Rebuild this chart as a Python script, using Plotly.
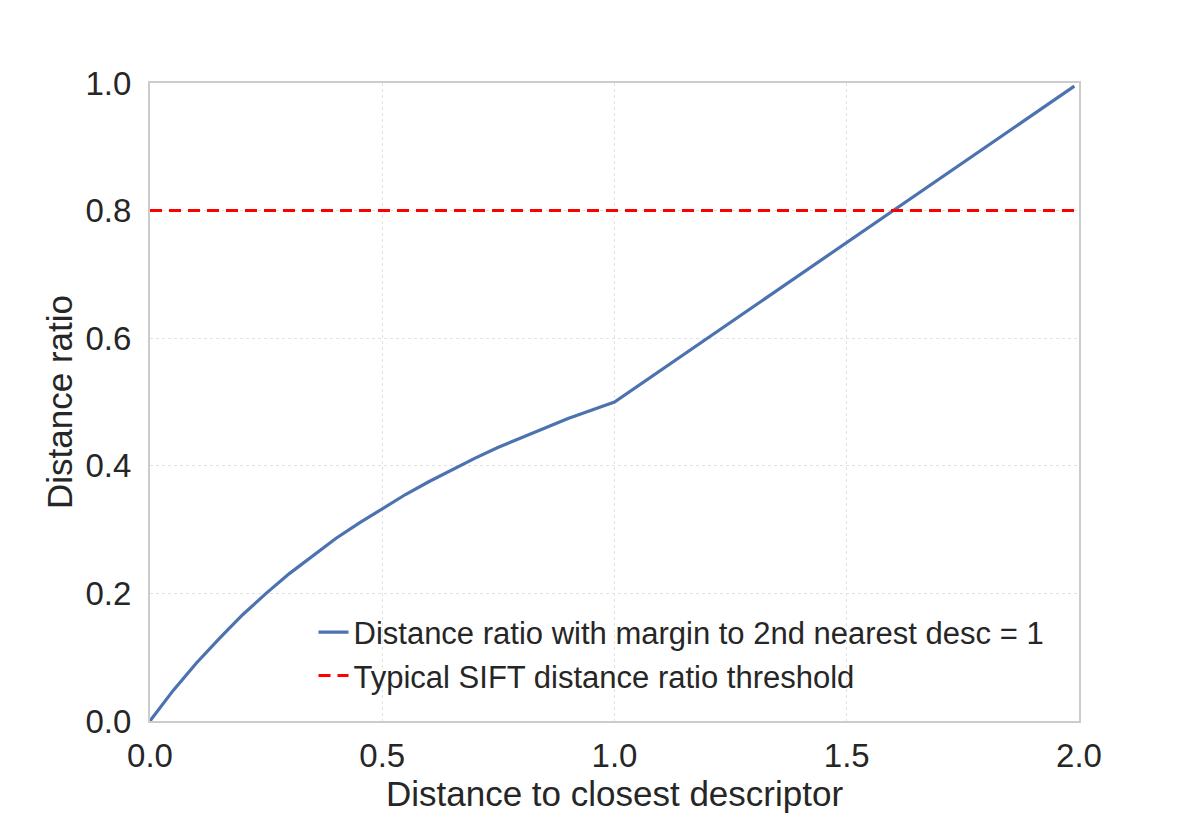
import plotly.graph_objects as go

# Data
curve_x = [0.0, 0.025, 0.05, 0.1, 0.15, 0.2, 0.25, 0.3, 0.35, 0.4, 0.45, 0.5,
           0.55, 0.6, 0.65, 0.7, 0.75, 0.8, 0.85, 0.9, 0.95, 1.0, 1.99]
curve_y = [0.0, 0.024, 0.048, 0.091, 0.130, 0.167, 0.200, 0.231, 0.259, 0.286, 0.310, 0.333,
           0.355, 0.375, 0.394, 0.412, 0.429, 0.444, 0.459, 0.474, 0.487, 0.5, 0.995]
thresh_x = [0.0, 1.99]
thresh_y = [0.8, 0.8]

x_ticks = [0.0, 0.5, 1.0, 1.5, 2.0]
y_ticks = [0.0, 0.2, 0.4, 0.6, 0.8, 1.0]

FONT = "Liberation Sans, Arial, Helvetica, sans-serif"

fig = go.Figure()
fig.add_trace(go.Scatter(
    x=curve_x, y=curve_y, mode="lines",
    name="Distance ratio with margin to 2nd nearest desc = 1",
    line=dict(color="#4C72B0", width=3.2),
))
fig.add_trace(go.Scatter(
    x=thresh_x, y=thresh_y, mode="lines",
    name="Typical SIFT distance ratio threshold",
    line=dict(color="#FF0000", width=3, dash="12px,7px"),
))

axis_common = dict(
    showgrid=True, gridcolor="#E2E2E2", griddash="dot", gridwidth=1,
    showline=True, linecolor="#CCCCCC", linewidth=2, mirror=True,
    zeroline=False, ticks="", tickfont=dict(size=33, color="#262626", family=FONT),
    tickformat=".1f",
)

fig.update_layout(
    width=1200, height=825,
    margin=dict(l=150, r=121, t=83, b=104),
    paper_bgcolor="white", plot_bgcolor="white",
    font=dict(family=FONT, color="#262626"),
    xaxis=dict(range=[0, 2], tickvals=x_ticks, ticklabelstandoff=4,
               title=dict(text="Distance to closest descriptor", font=dict(size=35, color="#262626"), standoff=6),
               **axis_common),
    yaxis=dict(range=[0, 1], tickvals=y_ticks, ticklabelstandoff=10,
               title=dict(text="Distance ratio", font=dict(size=35, color="#262626"), standoff=2),
               **axis_common),
    legend=dict(x=0.176, y=0.181, xanchor="left", yanchor="top",
                bgcolor="rgba(0,0,0,0)", font=dict(size=31, color="#262626"),
                tracegroupgap=0),
    showlegend=True,
)

fig.write_html("out.html")
